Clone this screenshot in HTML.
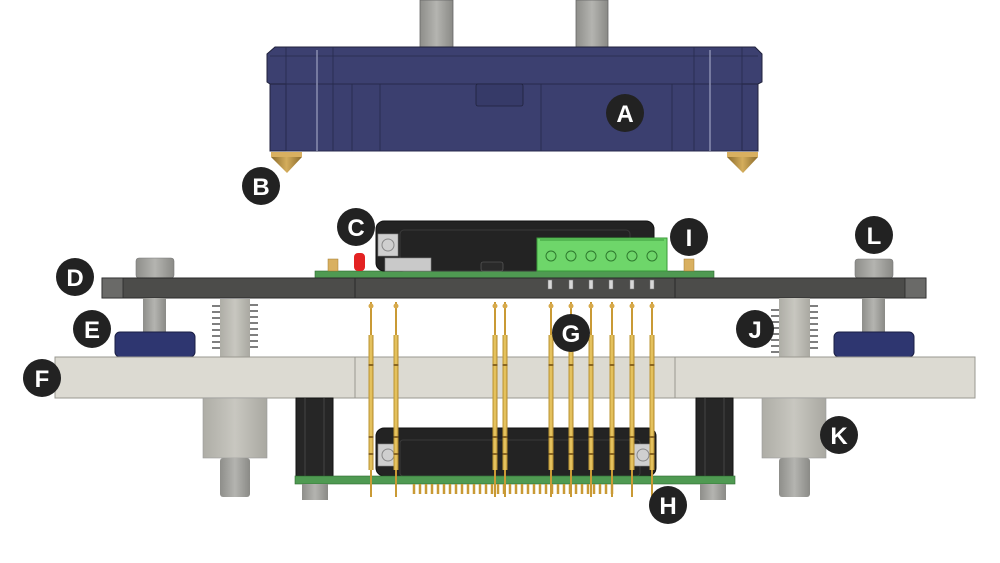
<!DOCTYPE html>
<html><head><style>html,body{margin:0;padding:0;background:#fff;width:1000px;height:563px;overflow:hidden}svg{display:block}text{font-family:"Liberation Sans",sans-serif;font-weight:bold;fill:#fff}</style></head><body>
<svg width="1000" height="563" viewBox="0 0 1000 563">
<defs>
<linearGradient id="gr" x1="0" x2="1"><stop offset="0" stop-color="#8e8e8a"/><stop offset=".5" stop-color="#b4b4b0"/><stop offset="1" stop-color="#8a8a86"/></linearGradient>
<linearGradient id="gr2" x1="0" x2="1"><stop offset="0" stop-color="#aeada6"/><stop offset=".5" stop-color="#c8c7c0"/><stop offset="1" stop-color="#a9a8a1"/></linearGradient>
<linearGradient id="gold" x1="0" x2="1"><stop offset="0" stop-color="#b8902e"/><stop offset=".5" stop-color="#f0cf6a"/><stop offset="1" stop-color="#b08628"/></linearGradient>
<linearGradient id="cone" x1="0" x2="1"><stop offset="0" stop-color="#8a6a2a"/><stop offset=".5" stop-color="#d4ad5c"/><stop offset="1" stop-color="#8a6a2a"/></linearGradient>
<g id="pogo"><rect x="-1" y="302" width="2" height="195" fill="#c99a35"/><circle cx="0" cy="306" r="2.5" fill="#d7a94a"/><rect x="-2.5" y="335" width="5" height="135" fill="url(#gold)"/><rect x="-2.5" y="364" width="5" height="2" fill="#8a6620"/><rect x="-2.5" y="436" width="5" height="2" fill="#8a6620"/><rect x="-2.5" y="453" width="5" height="2" fill="#8a6620"/></g>
</defs>
<!-- top standoffs -->
<rect x="420" y="0" width="33" height="47" fill="url(#gr)" stroke="#666" stroke-width=".8"/>
<rect x="576" y="0" width="32" height="47" fill="url(#gr)" stroke="#666" stroke-width=".8"/>
<!-- box A -->
<path d="M275 47 H755 L762 54 V82 L758 84 H270 L267 82 V54 Z" fill="#3c4070" stroke="#20223c" stroke-width="1"/>
<rect x="270" y="84" width="488" height="67" fill="#3b3f6f" stroke="#20223c" stroke-width="1"/>
<rect x="286" y="84" width="456" height="67" fill="none" stroke="#2a2d50" stroke-width=".8"/>
<g stroke="#262a4c" stroke-width=".8">
<line x1="286" y1="47" x2="286" y2="151"/><line x1="333" y1="47" x2="333" y2="151"/><line x1="694" y1="47" x2="694" y2="151"/><line x1="742" y1="47" x2="742" y2="151"/>
<line x1="352" y1="84" x2="352" y2="151"/><line x1="380" y1="84" x2="380" y2="151"/><line x1="541" y1="84" x2="541" y2="151"/><line x1="672" y1="84" x2="672" y2="151"/>
<line x1="270" y1="56" x2="758" y2="56"/>
</g>
<line x1="317" y1="50" x2="317" y2="151" stroke="#8a8eb0" stroke-width="1.5"/><line x1="710" y1="50" x2="710" y2="151" stroke="#8a8eb0" stroke-width="1.5"/>
<rect x="476" y="84" width="47" height="22" rx="2" fill="#363a68" stroke="#20223c" stroke-width=".8"/>
<!-- feet B -->
<rect x="271" y="152" width="31" height="5" fill="#d9b060"/><path d="M271 157 H302 L287 173 Z" fill="url(#cone)"/>
<rect x="727" y="152" width="31" height="5" fill="#d9b060"/><path d="M727 157 H758 L743 173 Z" fill="url(#cone)"/>
<!-- left/right top posts -->
<rect x="136" y="258" width="38" height="20" rx="3" fill="url(#gr)" stroke="#777" stroke-width=".6"/>
<rect x="855" y="259" width="38" height="19" rx="3" fill="url(#gr)" stroke="#777" stroke-width=".6"/>
<!-- top PCB C -->
<rect x="315" y="271" width="399" height="7" fill="#4f9a52" stroke="#2e6a30" stroke-width=".6"/>
<rect x="376" y="221" width="278" height="50" rx="8" fill="#232323" stroke="#111" stroke-width="1"/>
<rect x="400" y="230" width="230" height="41" rx="4" fill="none" stroke="#3a3a3a" stroke-width="1"/>
<rect x="378" y="234" width="20" height="22" fill="#cfcfcf" stroke="#888" stroke-width=".6"/><circle cx="388" cy="245" r="6" fill="none" stroke="#888"/>
<rect x="385" y="258" width="46" height="13" fill="#c9c9c9" stroke="#888" stroke-width=".6"/>
<rect x="481" y="262" width="22" height="9" rx="2" fill="#2a2a2a" stroke="#666" stroke-width=".6"/>
<rect x="537" y="238" width="130" height="33" fill="#6ed66a" stroke="#3a9a3a" stroke-width="1"/>
<g fill="none" stroke="#2e7a2e" stroke-width="1">
<circle cx="551" cy="256" r="5"/><circle cx="571" cy="256" r="5"/><circle cx="591" cy="256" r="5"/><circle cx="611" cy="256" r="5"/><circle cx="632" cy="256" r="5"/><circle cx="652" cy="256" r="5"/>
</g>
<path d="M540 240 H664" stroke="#3a9a3a" stroke-width="1"/>
<rect x="354" y="253" width="11" height="18" rx="4" fill="#e32222"/>
<rect x="328" y="259" width="10" height="12" fill="#d9b060" stroke="#a07a30" stroke-width=".5"/>
<rect x="684" y="259" width="10" height="12" fill="#d9b060" stroke="#a07a30" stroke-width=".5"/>
<!-- plate D -->
<rect x="102" y="278" width="824" height="20" fill="#4c4c4a" stroke="#2a2a2a" stroke-width="1"/>
<rect x="102" y="278" width="21" height="20" fill="#6a6a68" stroke="#2a2a2a" stroke-width=".8"/>
<rect x="905" y="278" width="21" height="20" fill="#6a6a68" stroke="#2a2a2a" stroke-width=".8"/>
<line x1="355" y1="278" x2="355" y2="298" stroke="#2a2a2a"/><line x1="675" y1="278" x2="675" y2="298" stroke="#2a2a2a"/>
<g fill="#d8d8d8" stroke="#777" stroke-width=".5"><rect x="548" y="280" width="4" height="9"/><rect x="569" y="280" width="4" height="9"/><rect x="589" y="280" width="4" height="9"/><rect x="609" y="280" width="4" height="9"/><rect x="630" y="280" width="4" height="9"/><rect x="650" y="280" width="4" height="9"/></g>
<!-- shafts + washers -->
<rect x="143" y="298" width="23" height="36" fill="url(#gr)"/>
<rect x="862" y="298" width="23" height="36" fill="url(#gr)"/>
<rect x="115" y="332" width="80" height="25" rx="5" fill="#2e3670" stroke="#1a1f45" stroke-width="1"/>
<rect x="834" y="332" width="80" height="25" rx="5" fill="#2e3670" stroke="#1a1f45" stroke-width="1"/>
<!-- spring posts -->
<rect x="220" y="299" width="30" height="58" fill="url(#gr2)"/>
<rect x="779" y="298" width="31" height="59" fill="url(#gr2)"/>
<g stroke="#555" stroke-width="1.5">
<path d="M212 306 h8 M212 312 h8 M212 318 h8 M212 324 h8 M212 330 h8 M212 336 h8 M212 342 h8 M212 348 h8 M250 305 h8 M250 311 h8 M250 317 h8 M250 323 h8 M250 329 h8 M250 335 h8 M250 341 h8 M250 347 h8"/>
<path d="M771 310 h8 M771 316 h8 M771 322 h8 M771 328 h8 M771 334 h8 M771 340 h8 M771 346 h8 M771 352 h8 M810 306 h8 M810 312 h8 M810 318 h8 M810 324 h8 M810 330 h8 M810 336 h8 M810 342 h8 M810 348 h8"/>
</g>
<!-- plate F -->
<rect x="55" y="357" width="920" height="41" fill="#dcdad2" stroke="#9a9890" stroke-width="1"/>
<line x1="355" y1="357" x2="355" y2="398" stroke="#9a9890"/><line x1="675" y1="357" x2="675" y2="398" stroke="#9a9890"/>
<!-- below F -->
<rect x="203" y="398" width="64" height="60" fill="url(#gr2)" stroke="#999" stroke-width=".6"/>
<rect x="220" y="458" width="30" height="39" rx="3" fill="url(#gr)"/>
<rect x="762" y="398" width="64" height="60" fill="url(#gr2)" stroke="#999" stroke-width=".6"/>
<rect x="779" y="458" width="31" height="39" rx="3" fill="url(#gr)"/>
<rect x="296" y="398" width="37" height="78" fill="#262626" stroke="#111"/><line x1="305" y1="398" x2="305" y2="476" stroke="#444"/><line x1="324" y1="398" x2="324" y2="476" stroke="#444"/>
<rect x="696" y="398" width="37" height="78" fill="#262626" stroke="#111"/><line x1="705" y1="398" x2="705" y2="476" stroke="#444"/><line x1="724" y1="398" x2="724" y2="476" stroke="#444"/>
<!-- bottom module H -->
<rect x="376" y="428" width="280" height="48" rx="8" fill="#232323" stroke="#111"/>
<rect x="400" y="440" width="240" height="36" rx="3" fill="none" stroke="#3a3a3a"/>
<rect x="378" y="444" width="20" height="22" fill="#cfcfcf" stroke="#888" stroke-width=".6"/><circle cx="388" cy="455" r="6" fill="none" stroke="#888"/>
<rect x="633" y="444" width="20" height="22" fill="#cfcfcf" stroke="#888" stroke-width=".6"/><circle cx="643" cy="455" r="6" fill="none" stroke="#888"/>
<rect x="295" y="476" width="440" height="8" fill="#4f9a52" stroke="#2e6a30" stroke-width=".6"/>
<rect x="302" y="484" width="26" height="16" fill="url(#gr)"/>
<rect x="700" y="484" width="26" height="16" fill="url(#gr)"/>
<path d="M414 484 V494 M420 484 V494 M426 484 V494 M432 484 V494 M438 484 V494 M444 484 V494 M450 484 V494 M456 484 V494 M462 484 V494 M468 484 V494 M474 484 V494 M480 484 V494 M486 484 V494 M492 484 V494 M498 484 V494 M504 484 V494 M510 484 V494 M516 484 V494 M522 484 V494 M528 484 V494 M534 484 V494 M540 484 V494 M546 484 V494 M552 484 V494 M558 484 V494 M564 484 V494 M570 484 V494 M576 484 V494 M582 484 V494 M588 484 V494 M594 484 V494 M600 484 V494 M606 484 V494 M612 484 V494" stroke="#c99a35" stroke-width="2.5"/>
<!-- pogo pins -->
<use href="#pogo" x="371"/><use href="#pogo" x="396"/><use href="#pogo" x="495"/><use href="#pogo" x="505"/><use href="#pogo" x="551"/><use href="#pogo" x="571"/><use href="#pogo" x="591"/><use href="#pogo" x="612"/><use href="#pogo" x="632"/><use href="#pogo" x="652"/>
<!-- labels -->
<g fill="#222">
<circle cx="625" cy="113" r="19"/><circle cx="261" cy="186" r="19"/><circle cx="356" cy="227" r="19"/><circle cx="689" cy="237" r="19"/><circle cx="874" cy="235" r="19"/><circle cx="75" cy="277" r="19"/><circle cx="92" cy="329" r="19"/><circle cx="42" cy="378" r="19"/><circle cx="571" cy="333" r="19"/><circle cx="755" cy="329" r="19"/><circle cx="839" cy="435" r="19"/><circle cx="668" cy="505" r="19"/>
</g>
<g font-size="24" text-anchor="middle">
<text x="625" y="122">A</text><text x="261" y="195">B</text><text x="356" y="236">C</text><text x="689" y="246">I</text><text x="874" y="244">L</text><text x="75" y="286">D</text><text x="92" y="338">E</text><text x="42" y="387">F</text><text x="571" y="342">G</text><text x="755" y="338">J</text><text x="839" y="444">K</text><text x="668" y="514">H</text>
</g>
</svg>
</body></html>
